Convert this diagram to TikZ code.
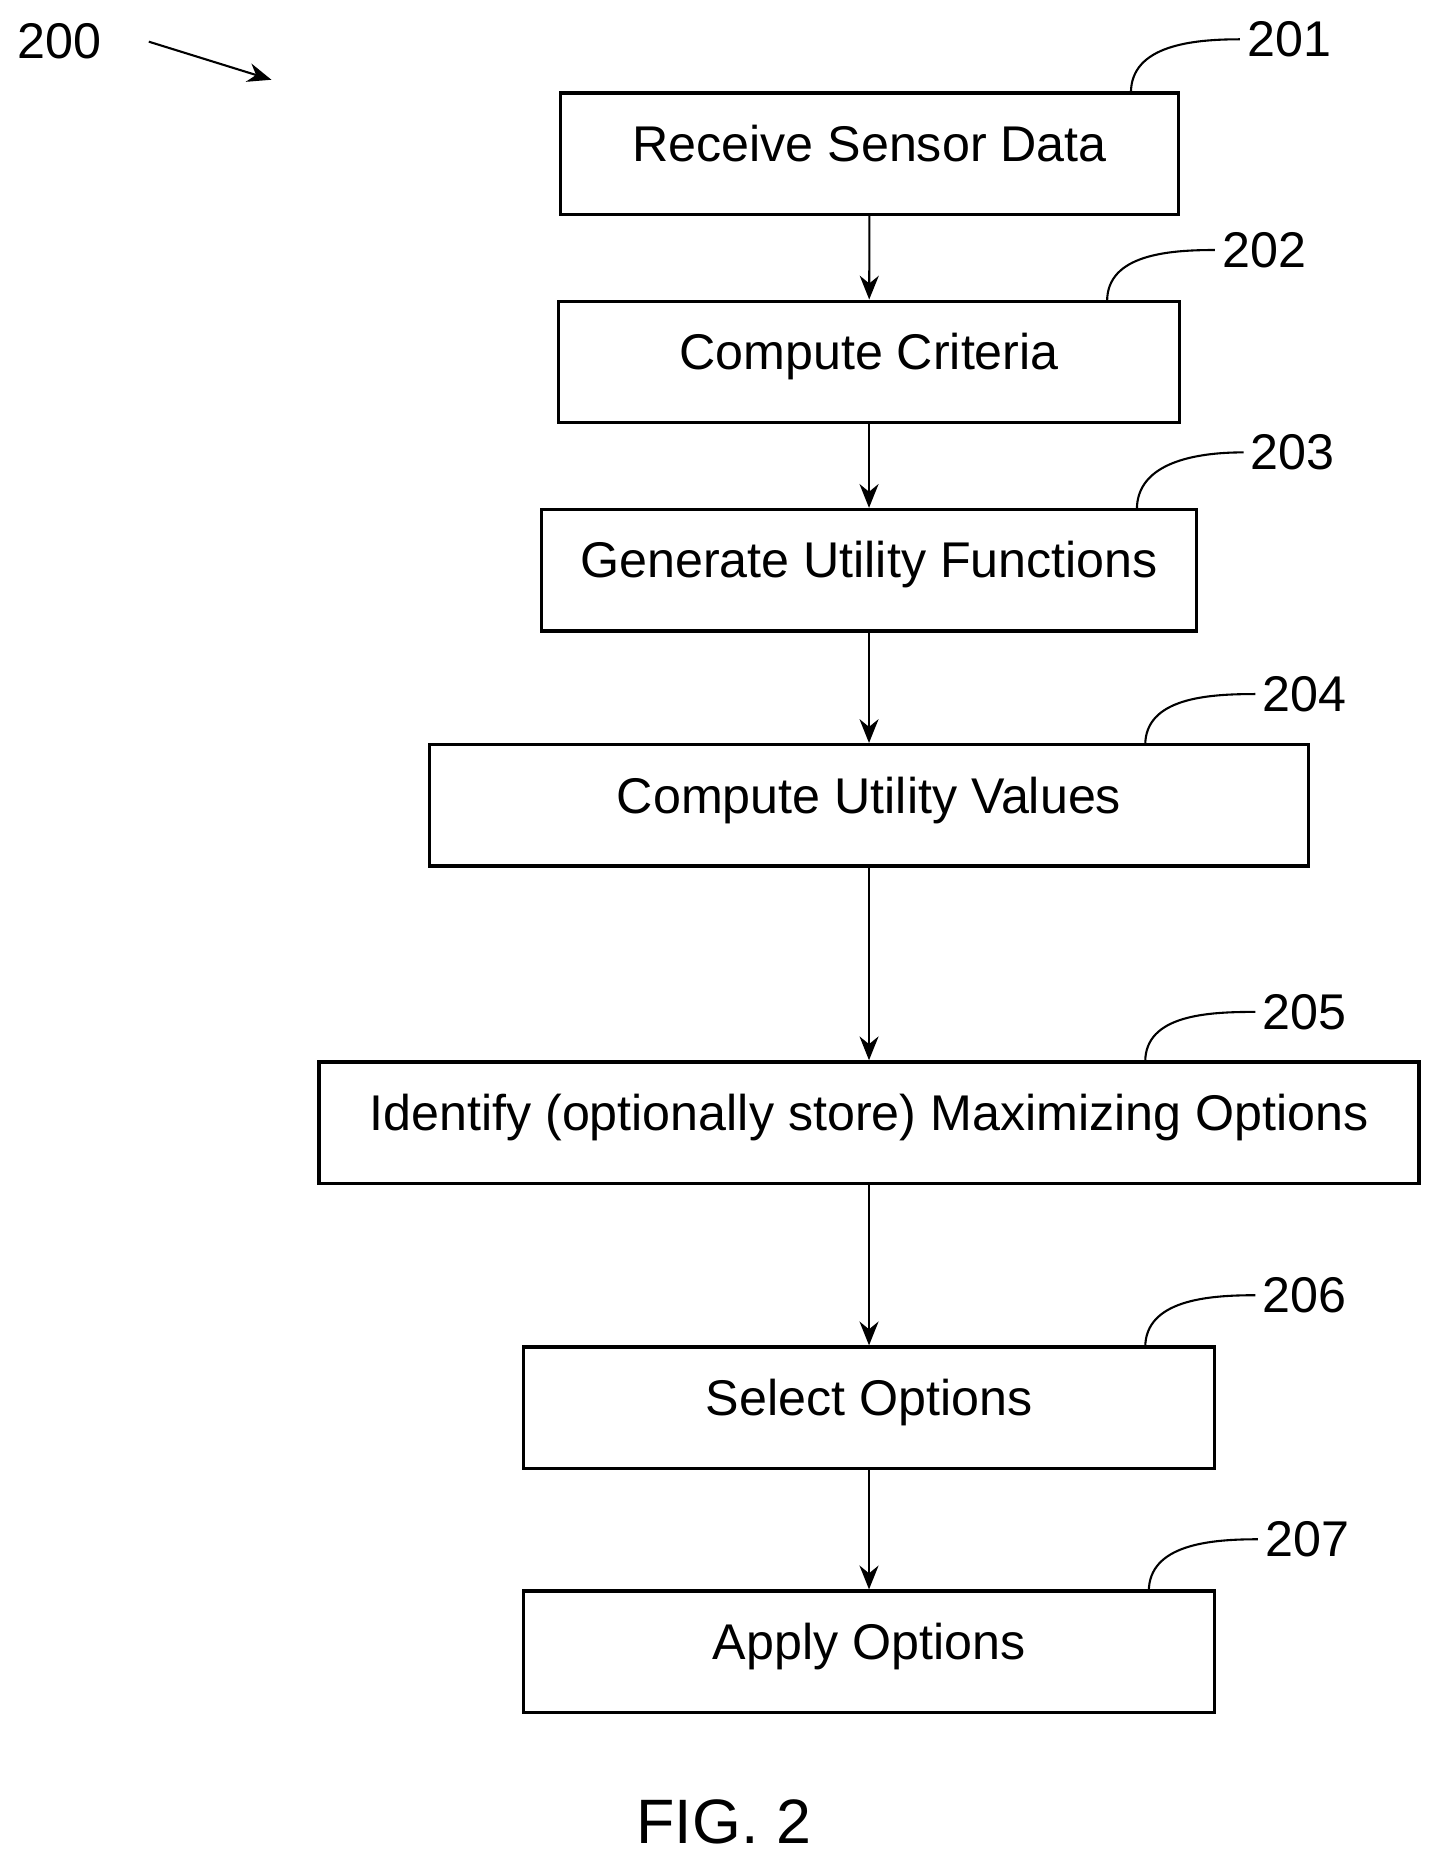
\documentclass[tikz,border=0pt]{standalone}
\usepackage{fontspec}
\setmainfont{Liberation Sans}
\usetikzlibrary{arrows.meta}
\begin{document}
\begin{tikzpicture}
	\tikzstyle{stage}=[rectangle, draw=black, line width=1.6pt, minimum height=2.04cm, text height=0.7cm, text depth=0.44cm, font=\fontsize{24}{28}\selectfont]
	\tikzstyle{ref}=[font=\fontsize{24}{28}\selectfont]
	\tikzstyle{flow}=[-{Stealth[length=4mm,width=3.2mm]}, line width=1pt]
	\useasboundingbox (0, 0) rectangle (24.26, -31.4);
	\draw node[stage, minimum width=10.38cm] at (14.61, -2.58) (s1) {Receive Sensor Data};
	\draw node[stage, minimum width=10.44cm] at (14.6, -6.08) (s2) {Compute Criteria};
	\draw node[stage, minimum width=11.0cm] at (14.6, -9.58) (s3) {Generate Utility Functions};
	\draw node[stage, minimum width=14.76cm] at (14.6, -13.53) (s4) {Compute Utility Values};
	\draw node[stage, minimum width=18.48cm] at (14.6, -18.86) (s5) {Identify (optionally store) Maximizing Options};
	\draw node[stage, minimum width=11.6cm] at (14.6, -23.65) (s6) {Select Options};
	\draw node[stage, minimum width=11.6cm] at (14.6, -27.75) (s7) {Apply Options};

	\draw [flow] (s1) -- (s2);
	\draw [flow] (s2) -- (s3);
	\draw [flow] (s3) -- (s4);
	\draw [flow] (s4) -- (s5);
	\draw [flow] (s5) -- (s6);
	\draw [flow] (s6) -- (s7);

	% reference numerals
	\draw node[ref] at (21.66, -0.66) (r1) {201};
	\draw node[ref] at (21.24, -4.2) (r2) {202};
	\draw node[ref] at (21.72, -7.6) (r3) {203};
	\draw node[ref] at (21.92, -11.66) (r4) {204};
	\draw node[ref] at (21.92, -17.0) (r5) {205};
	\draw node[ref] at (21.92, -21.76) (r6) {206};
	\draw node[ref] at (21.96, -25.86) (r7) {207};
	\coordinate (l1) at (19.0, -1.56);
	\coordinate (l2) at (18.6, -5.06);
	\coordinate (l3) at (19.1, -8.56);
	\coordinate (l4) at (19.24, -12.52);
	\coordinate (l5) at (19.24, -17.84);
	\coordinate (l6) at (19.24, -22.64);
	\coordinate (l7) at (19.3, -26.74);
	\draw [line width=1pt] (l1) to[out=90, in=180] (r1.west);
	\draw [line width=1pt] (l2) to[out=90, in=180] (r2.west);
	\draw [line width=1pt] (l3) to[out=90, in=180] (r3.west);
	\draw [line width=1pt] (l4) to[out=90, in=180] (r4.west);
	\draw [line width=1pt] (l5) to[out=90, in=180] (r5.west);
	\draw [line width=1pt] (l6) to[out=90, in=180] (r6.west);
	\draw [line width=1pt] (l7) to[out=90, in=180] (r7.west);

	\draw node[ref] at (1.0, -0.7) (fig) {200};
	\coordinate (p0) at (2.5, -0.7);
	\coordinate (p1) at (4.56, -1.34);
	\draw [flow] (p0) -- (p1);
	\draw node[font=\fontsize{30}{34}\selectfont] at (12.16, -30.6) (cap) {FIG. 2};
\end{tikzpicture}
\end{document}
